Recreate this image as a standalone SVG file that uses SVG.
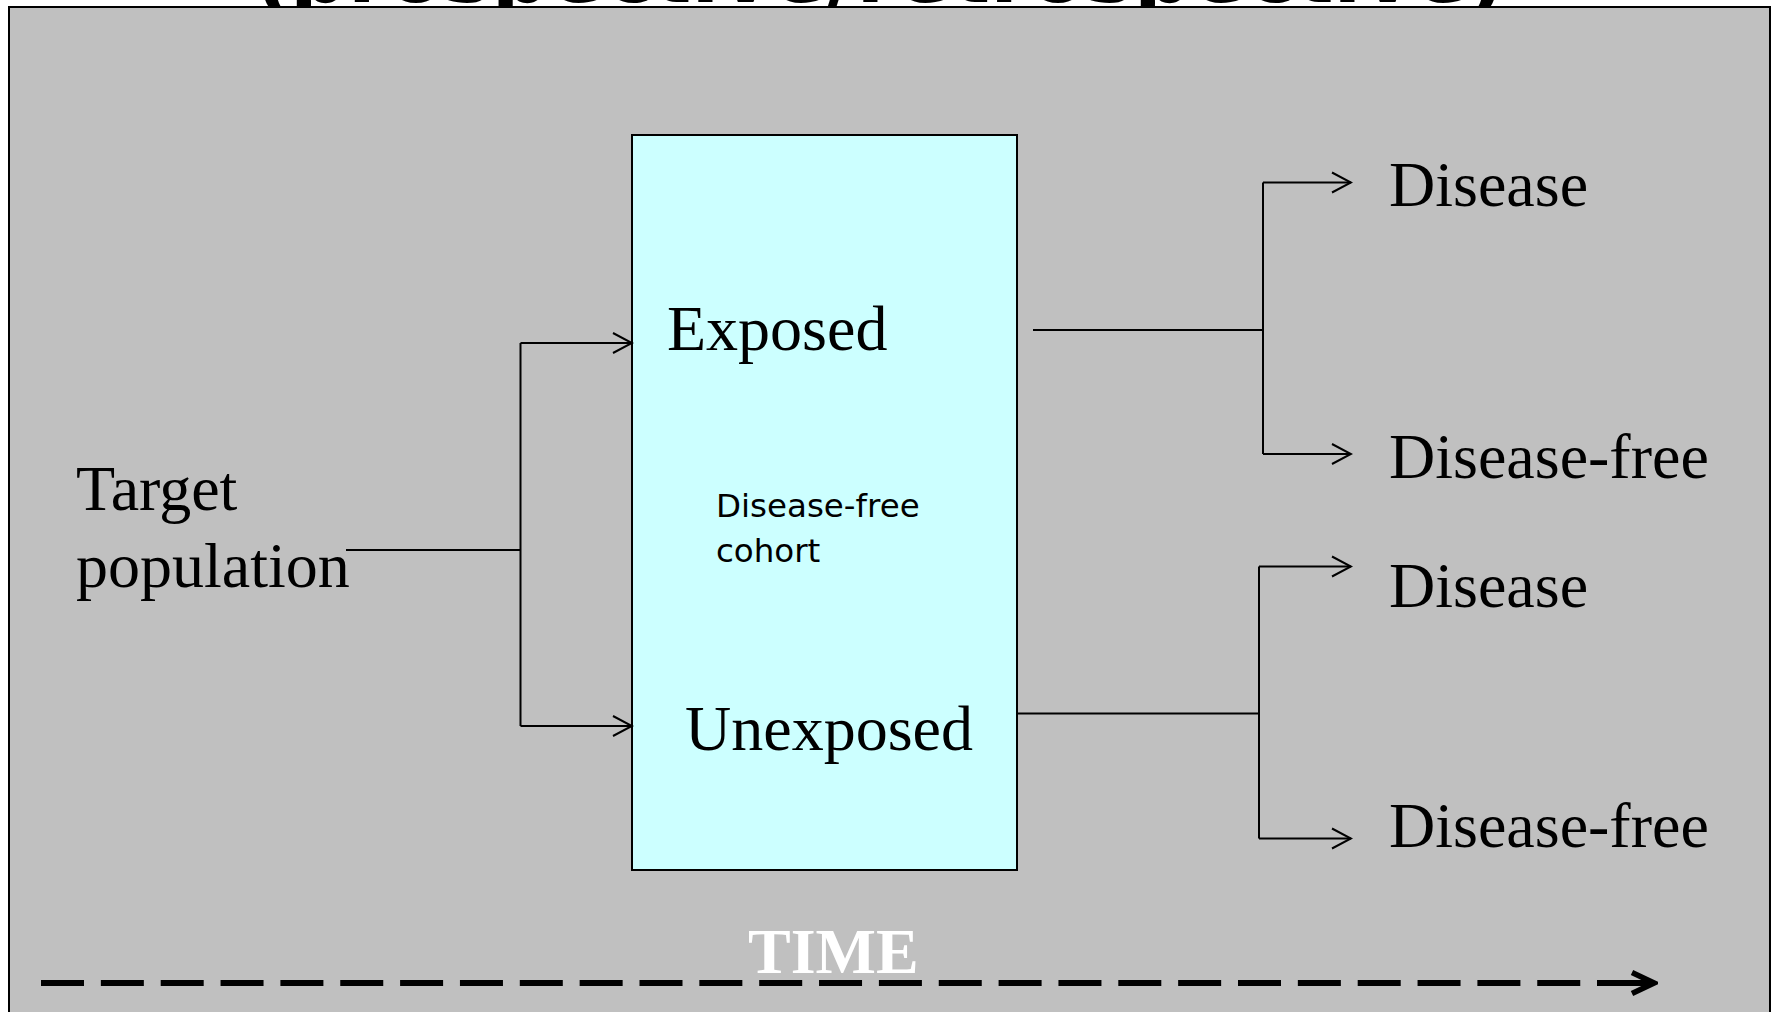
<svg xmlns="http://www.w3.org/2000/svg" width="1777" height="1012" viewBox="0 0 1777 1012">
  <style>
    .serif { font-family: "Liberation Serif", "Times New Roman", serif; font-size: 64px; fill: #000; }
    .sans { font-family: "DejaVu Sans", Verdana, sans-serif; font-size: 32.5px; fill: #000; }
    .title { font-family: "DejaVu Sans", Verdana, sans-serif; font-weight: bold; font-size: 81px; fill: #000; }
    .time { font-family: "Liberation Serif", "Times New Roman", serif; font-weight: bold; font-size: 64px; fill: #fff; }
    .conn { fill: none; stroke: #000; stroke-width: 2; }
    .conn-arrow { fill: none; stroke: #000; stroke-width: 2; marker-end: url(#open-arrow); }
  </style>
  <defs>
    <marker id="open-arrow" viewBox="-22 -12 24 24" refX="0" refY="0" markerWidth="24" markerHeight="24" markerUnits="userSpaceOnUse" orient="auto">
      <path d="M-19,-10 L0,0 L-19,10" fill="none" stroke="#000" stroke-width="2"/>
    </marker>
    <marker id="time-arrow" viewBox="-28 -14 32 28" refX="0" refY="0" markerWidth="32" markerHeight="28" markerUnits="userSpaceOnUse" orient="auto">
      <path d="M-22,-10.5 L0,0 L-22,10.5" fill="none" stroke="#000" stroke-width="5.5"/>
    </marker>
  </defs>

  <!-- page background -->
  <rect x="0" y="0" width="1777" height="1012" fill="#fff"/>

  <!-- heading, mostly hidden behind the panel -->
  <g id="title">
    <text class="title" x="253" y="2">(prospective/retrospective)</text>
  </g>

  <!-- grey panel -->
  <rect id="panel" x="9" y="7" width="1761" height="1030" fill="#c0c0c0" stroke="#000" stroke-width="2"/>

  <!-- source population -->
  <g id="node-target">
    <text class="serif" x="76" y="510">Target</text>
    <text class="serif" x="76" y="587">population</text>
  </g>

  <!-- cohort box -->
  <g id="node-cohort">
    <rect x="632" y="135" width="385" height="735" fill="#ccffff" stroke="#000" stroke-width="2"/>
    <text class="serif" x="667" y="350">Exposed</text>
    <text class="sans" x="716" y="517">Disease-free</text>
    <text class="sans" x="716" y="562">cohort</text>
    <text class="serif" x="685" y="750">Unexposed</text>
  </g>

  <!-- outcomes -->
  <g id="node-exposed-disease">
    <text class="serif" x="1389" y="206">Disease</text>
  </g>
  <g id="node-exposed-free">
    <text class="serif" x="1389" y="478">Disease-free</text>
  </g>
  <g id="node-unexposed-disease">
    <text class="serif" x="1389" y="607">Disease</text>
  </g>
  <g id="node-unexposed-free">
    <text class="serif" x="1389" y="847">Disease-free</text>
  </g>

  <!-- branching connectors -->
  <g id="connectors">
    <path class="conn" d="M346,550 H520.5"/>
    <path class="conn" d="M520.5,343 V726"/>
    <path class="conn-arrow" d="M520.5,343 H632"/>
    <path class="conn-arrow" d="M520.5,726 H632"/>

    <path class="conn" d="M1033,330 H1263"/>
    <path class="conn" d="M1263,182.5 V454"/>
    <path class="conn-arrow" d="M1263,182.5 H1351"/>
    <path class="conn-arrow" d="M1263,454 H1351"/>

    <path class="conn" d="M1017,713.5 H1259"/>
    <path class="conn" d="M1259,566.5 V838.5"/>
    <path class="conn-arrow" d="M1259,566.5 H1351"/>
    <path class="conn-arrow" d="M1259,838.5 H1351"/>
  </g>

  <!-- time axis -->
  <g id="time-axis">
    <text class="time" x="748" y="973">TIME</text>
    <path d="M41,983 H1590" fill="none" stroke="#000" stroke-width="6" stroke-dasharray="43 16.85"/>
    <path d="M1597,983 H1654" fill="none" stroke="#000" stroke-width="6" marker-end="url(#time-arrow)"/>
  </g>
</svg>
